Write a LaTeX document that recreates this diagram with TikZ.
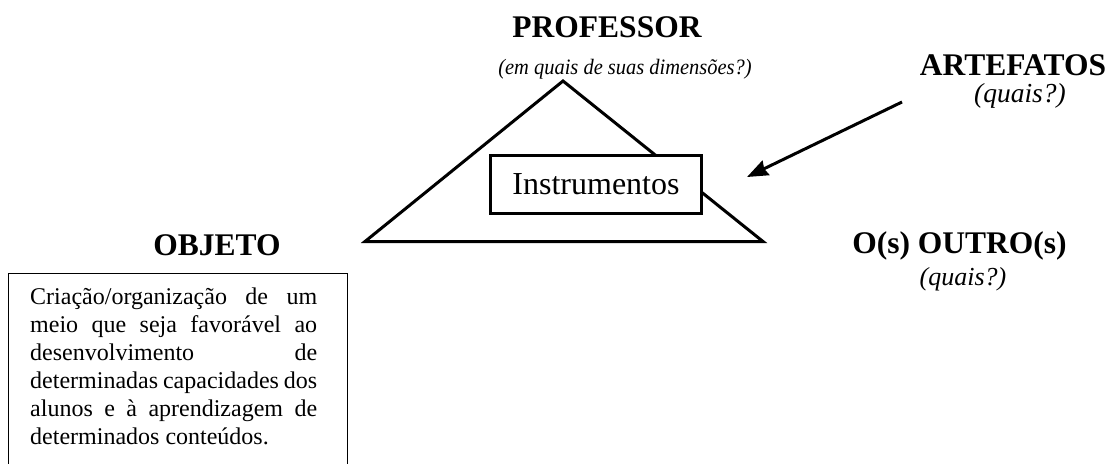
\documentclass[tikz,border=0pt]{standalone}
\usepackage{fontspec}
\setmainfont{Liberation Serif}
\usetikzlibrary{arrows.meta}
\tikzset{
  heading/.style={font=\fontsize{31.5}{36}\selectfont\bfseries, anchor=base, inner sep=0pt},
  question/.style={font=\fontsize{#1}{24}\selectfont\itshape, anchor=base, inner sep=0pt},
  thick line/.style={line width=3pt},
}
\newcommand{\jline}[1]{\makebox[287pt][s]{#1}}
\begin{document}
\begin{tikzpicture}[x=1pt,y=1pt]
\useasboundingbox[fill=white] (0,0) rectangle (1110,-463);
% headings
\node[heading] (prof) at (607,-37) {PROFESSOR};
\node[question=22] (profq) at (625,-74) {\scalebox{0.93}[1]{(em quais de suas dimensões?)}};
\node[heading] (art) at (1013,-75) {ARTEFATOS};
\node[question=27.5] (artq) at (1020,-102) {(quais?)};
\node[heading] (obj) at (217,-255) {OBJETO};
\node[heading] (outro) at (959.5,-253) {O(s) OUTRO(s)};
\node[question=26] (outroq) at (963,-285) {(quais?)};
% triangle
\coordinate (top) at (563,-81);
\coordinate (bl) at (365,-241.5);
\coordinate (br) at (763,-241.5);
\draw[thick line, line join=miter] (top) -- (bl) -- (br) -- cycle;
% instruments box
\node[draw, thick line, fill=white, minimum width=211pt, minimum height=58pt, inner sep=0pt,
      font=\fontsize{32}{36}\selectfont] (instr) at (596,-184.5) {Instrumentos};
% arrow
\coordinate (arrstart) at (902,-102);
\coordinate (arrtip) at (747,-177);
\draw[thick line, -{Stealth[length=21pt,width=16pt,inset=2pt]}] (arrstart) -- (arrtip);
% object text box
\coordinate (fbl) at (8.5,-470);
\coordinate (ftl) at (8.5,-273.5);
\coordinate (ftr) at (347.5,-273.5);
\coordinate (fbr) at (347.5,-470);
\draw[line width=1.6pt] (fbl) -- (ftl) -- (ftr) -- (fbr);
\node[anchor=north west, inner sep=0pt, align=left, font=\fontsize{24}{28}\selectfont] (objtext) at (30,-288)
 {\jline{Criação/organização de um}\\
  \jline{meio que seja favorável ao}\\
  \jline{desenvolvimento de}\\
  \jline{determinadas capacidades dos}\\
  \jline{alunos e à aprendizagem de}\\
  determinados conteúdos.};
\end{tikzpicture}
\end{document}
